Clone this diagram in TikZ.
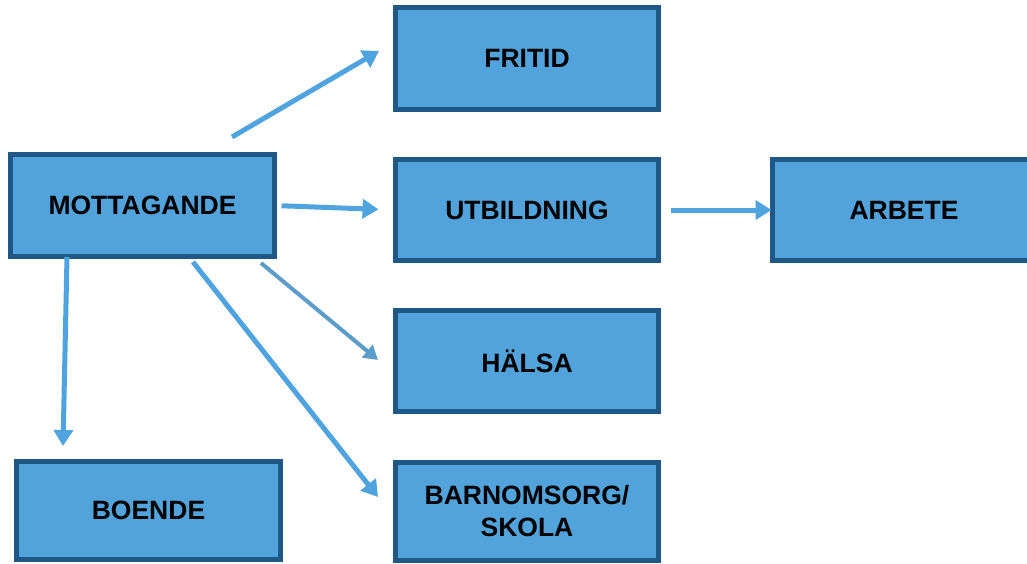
\documentclass[tikz,border=0pt]{standalone}
\usepackage{fontspec}
\setmainfont{Liberation Sans}
\usetikzlibrary{arrows.meta}
\definecolor{boxfill}{HTML}{52A3DB}
\definecolor{boxline}{HTML}{1F5886}
\definecolor{arrowc}{HTML}{4FA3DE}
\definecolor{arrowd}{HTML}{5C9CCB}
\tikzset{
  box/.style={draw=boxline, fill=boxfill, line width=5pt, inner sep=0pt, outer sep=0pt,
    align=center, font=\fontsize{26.5}{32}\selectfont\bfseries},
  conn/.style={draw=arrowc, line width=5pt, -{Triangle[width=19pt,length=16pt]}},
  connsoft/.style={draw=arrowd, line width=4pt, -{Triangle[width=16pt,length=14pt]}}
}
\begin{document}
\begin{tikzpicture}[x=1pt,y=-1pt]
\useasboundingbox (0,0) rectangle (1027,563);
\clip (0,0) rectangle (1027,563);
\node[box, minimum width=264pt, minimum height=102pt] (mott) at (142.5,205.5) {MOTTAGANDE};
\node[box, minimum width=263pt, minimum height=102pt] (fritid) at (527,58.5) {FRITID};
\node[box, minimum width=263pt, minimum height=101pt] (utb) at (527,210) {UTBILDNING};
\node[box, minimum width=263pt, minimum height=101pt] (arbete) at (904,210) {ARBETE};
\node[box, minimum width=263pt, minimum height=101pt] (halsa) at (527,361) {HÄLSA};
\node[box, minimum width=263pt, minimum height=98pt] (barn) at (527,511) {BARNOMSORG/\\SKOLA};
\node[box, minimum width=264pt, minimum height=98pt] (boende) at (148.5,510.5) {BOENDE};
% connector end points
\coordinate (f1) at (232,137);
\coordinate (f2) at (379,51);
\coordinate (h1) at (261,263);
\coordinate (h2) at (378,360);
\coordinate (b1) at (193,262);
\coordinate (b2) at (378,497);
\coordinate (o1) at (67,257);
\coordinate (o2) at (63,446);
\draw[conn] (f1) -- (f2);
\draw[conn, shorten <=7pt, shorten >=17pt] (mott.east) -- (utb.west);
\draw[conn, shorten <=12pt, shorten >=1pt] (utb.east) -- (arbete.west);
\draw[connsoft] (h1) -- (h2);
\draw[conn] (b1) -- (b2);
\draw[conn] (o1) -- (o2);
\end{tikzpicture}
\end{document}
